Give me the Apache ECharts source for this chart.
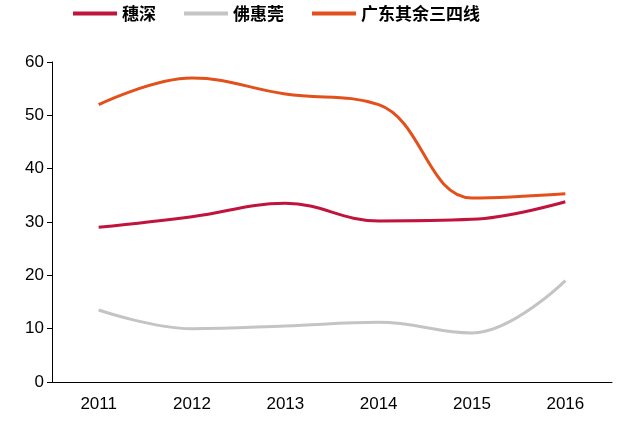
<!DOCTYPE html>
<html><head><meta charset="utf-8">
<script src="https://cdn.jsdelivr.net/npm/echarts@6/dist/echarts.min.js"></script>
<style>html,body{margin:0;padding:0;background:#fff}#c{width:642px;height:442px}</style>
</head><body><div id="c"></div>
<script>
const categories=['2011','2012','2013','2014','2015','2016'];
const suishen=[29,31,33.5,30.2,30.5,33.8];
const fohuiguan=[13.5,10,10.5,11.2,9.2,19];
const guangdong=[52,57,54,52,34.5,35.3];
const yTicks=[0,10,20,30,40,50,60];
const chart=echarts.init(document.getElementById('c'));
const font='"Noto Sans CJK SC", sans-serif';
chart.setOption({
  animation:false,
  legend:{top:0,left:68,itemWidth:44,itemHeight:4,itemGap:28,icon:'rect',
    textStyle:{fontSize:17,color:'#000',fontFamily:font,fontWeight:'bold'}},
  grid:{left:52,right:30,top:62,bottom:60},
  xAxis:{type:'category',data:categories,axisTick:{show:false},
    axisLine:{lineStyle:{color:'#000'}},
    axisLabel:{fontSize:17,color:'#000',margin:14,fontFamily:'Arial'}},
  yAxis:{type:'value',min:yTicks[0],max:yTicks[yTicks.length-1],interval:10,
    splitLine:{show:false},axisLine:{show:true,lineStyle:{color:'#000'}},
    axisTick:{show:true,inside:false,length:5,lineStyle:{color:'#000'}},
    axisLabel:{fontSize:17,color:'#000',fontFamily:'Arial'}},
  series:[
    {name:'穗深',type:'line',smooth:0.4,data:suishen,symbol:'none',lineStyle:{width:3,color:'#C0143C'},itemStyle:{color:'#C0143C'}},
    {name:'佛惠莞',type:'line',smooth:0.4,data:fohuiguan,symbol:'none',lineStyle:{width:3,color:'#C4C4C4'},itemStyle:{color:'#C4C4C4'}},
    {name:'广东其余三四线',type:'line',smooth:0.4,data:guangdong,symbol:'none',lineStyle:{width:3,color:'#E2501C'},itemStyle:{color:'#E2501C'}}
  ]
});
</script></body></html>
